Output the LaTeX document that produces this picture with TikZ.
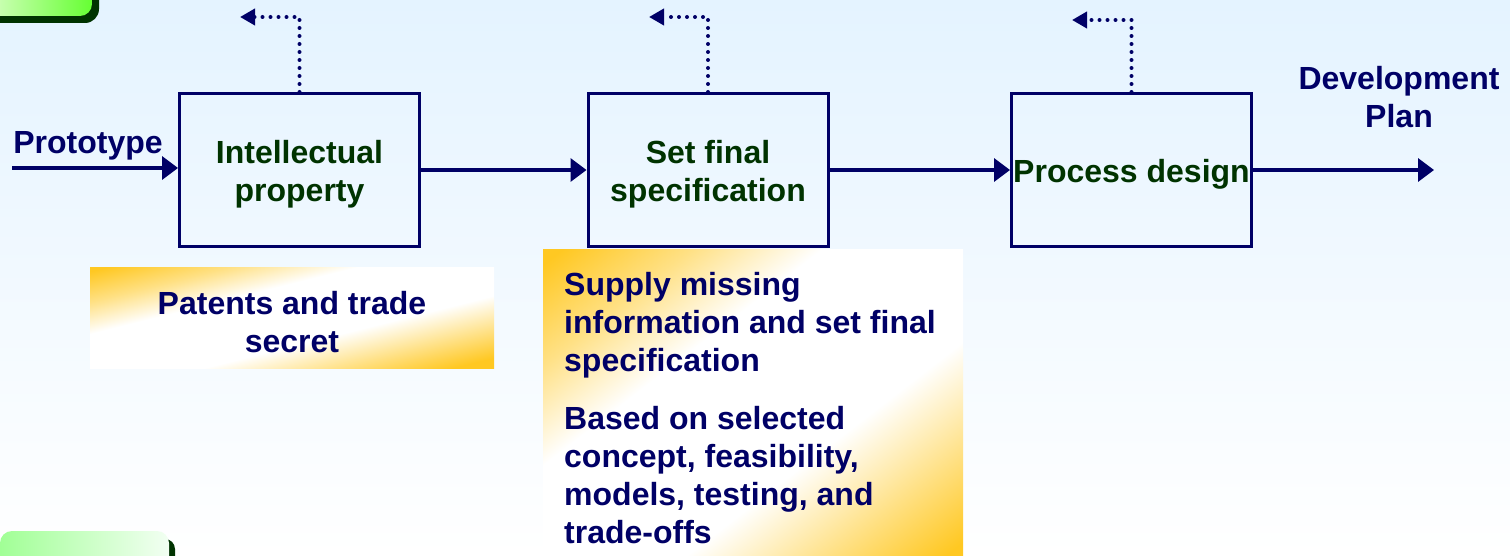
\documentclass[tikz,border=0pt]{standalone}
\usepackage{fontspec}
\setmainfont{Liberation Sans}
\usetikzlibrary{arrows.meta}
\definecolor{navy}{HTML}{000066}
\definecolor{dgreen}{HTML}{003300}
\definecolor{bgtop}{HTML}{E4F3FF}
\definecolor{orng}{HTML}{FFC822}
\definecolor{lgreen}{HTML}{E6FFD6}
\definecolor{bgreen}{HTML}{66FF33}
\pgfdeclareverticalshading{notefade}{100bp}{color(0bp)=(orng); color(18bp)=(orng); color(28bp)=(orng!55!white); color(40bp)=(white); color(62bp)=(white); color(73bp)=(orng!55!white); color(84bp)=(orng); color(100bp)=(orng)}
\begin{document}
\begin{tikzpicture}[x=1pt,y=-1pt,
  every node/.style={font=\fontsize{32}{38}\selectfont\bfseries, inner sep=0pt},
  procbox/.style={draw=navy, line width=3pt, minimum width=240pt, minimum height=153pt},
  boxtxt/.style={align=center, text=dgreen},
  flow/.style={draw=navy, line width=3.5pt, -{Triangle[length=16pt,width=23pt]}},
  fb/.style={draw=navy, line width=4pt, line cap=round, dash pattern=on 0pt off 8pt, -{Triangle[length=15pt,width=16pt]}},
  lbl/.style={text=navy, align=center},
  note/.style={shading=notefade, shading angle=45}]
\useasboundingbox (0,0) rectangle (1510,556);
\shade[top color=bgtop, bottom color=white] (0,0) rectangle (1510,556);
% green boxes at corners
\fill[dgreen, rounded corners=14pt] (-30,-30) rectangle (99,23);
\shade[left color=lgreen, right color=bgreen, rounded corners=12pt] (-30,-30) rectangle (92,16);
\fill[dgreen, rounded corners=10pt] (8,539) rectangle (175,580);
\shade[left color=green!30!lgreen, right color=green!5!white, rounded corners=12pt] (0,531) rectangle (169,580);
% note boxes (unit squares stretched so the fade runs corner to corner)
\begin{scope}[transform canvas={shift={(90,267)}, xscale=4.04, yscale=1.01}]
  \shade[note] (0,0) rectangle (100,100);
\end{scope}
\begin{scope}[transform canvas={shift={(543,250)}, xscale=4.20, yscale=3.25}]
  \shade[note] (0,0) rectangle (100,100);
\end{scope}
% process boxes
\node[procbox] (b1) at (299.5,170) {};
\node[procbox] (b2) at (708,170) {};
\node[procbox] (b3) at (1131.5,170) {};
\node[boxtxt] (t1) at ([yshift=-4pt]b1.center) {Intellectual\\property};
\node[boxtxt] (t2) at ([yshift=-4pt]b2.center) {Set final\\specification};
\node[boxtxt] (t3) at ([yshift=-4pt]b3.center) {Process design};
% labels
\node[lbl] (proto) at (88,146) {Prototype};
\node[lbl] (dev) at (1399,97) {Development\\Plan};
\node[lbl] (pat) at (292,322) {Patents and trade\\secret};
\node[lbl, align=left, anchor=north west] (sup) at (564,272) {Supply missing\\information and set final\\specification\\[20pt]Based on selected\\concept, feasibility,\\models, testing, and\\trade-offs};
% connectors
\coordinate (in) at (12,168);
\coordinate (out) at (1434,170);
\draw[flow] (in) -- (in -| b1.west);
\draw[flow] (b1.east) -- (b2.west);
\draw[flow] (b2.east) -- (b3.west);
\draw[flow] (b3.east) -- (out);
\coordinate (f1) at (240,17);
\coordinate (f2) at (649,17);
\coordinate (f3) at (1072,20);
\draw[fb] (b1.north) |- (f1);
\draw[fb] (b2.north) |- (f2);
\draw[fb] (b3.north) |- (f3);
\end{tikzpicture}
\end{document}
